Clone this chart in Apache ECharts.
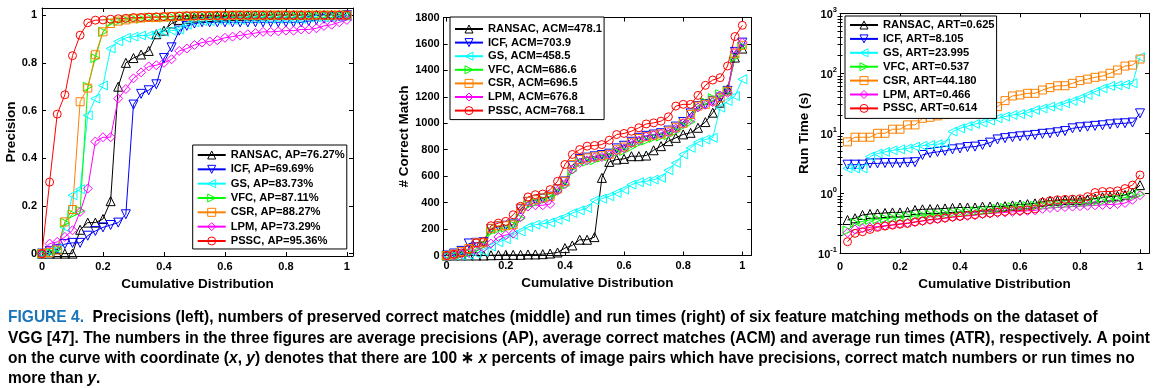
<!DOCTYPE html>
<html><head><meta charset="utf-8">
<script src="https://cdn.jsdelivr.net/npm/echarts@6/dist/echarts.min.js"></script>
<style>html,body{margin:0;padding:0;background:#fff}#c{width:1158px;height:388px}</style>
</head><body><div id="c"></div>
<script>
// ---------- data ----------
const cdfX = [0,0.025,0.05,0.075,0.1,0.125,0.15,0.175,0.2,0.225,0.25,0.275,0.3,0.325,0.35,0.375,0.4,0.425,0.45,0.475,0.5,0.525,0.55,0.575,0.6,0.625,0.65,0.675,0.7,0.725,0.75,0.775,0.8,0.825,0.85,0.875,0.9,0.925,0.95,0.975,1];
const cdfXRun = cdfX.slice(1);
const xTicks = [0,0.2,0.4,0.6,0.8,1];
const precTicks = [0,0.2,0.4,0.6,0.8,1];
const matchTicks = [0,200,400,600,800,1000,1200,1400,1600,1800];
const timeTicks = [0.1,1,10,100,1000];
const timeMinorTicks = [0.2,0.3,0.4,0.5,0.6,0.7,0.8,0.9,2,3,4,5,6,7,8,9,20,30,40,50,60,70,80,90,200,300,400,500,600,700,800,900];
const methods = ['RANSAC','ICF','GS','VFC','CSR','LPM','PSSC'];
const apText = ['76.27%','69.69%','83.73%','87.11%','88.27%','73.29%','95.36%'];
const acmText = ['478.1','703.9','458.5','686.6','696.5','676.8','768.1'];
const artText = ['0.625','8.105','23.995','0.537','44.180','0.466','0.614'];

// Precision (left)
const precRansac = [0,0,0,0,0,0.10,0.13,0.13,0.145,0.22,0.70,0.80,0.82,0.835,0.85,0.92,0.935,0.965,0.98,0.985,0.99,0.99,0.992,0.994,0.995,0.996,0.997,0.998,0.998,0.999,1,1,1,1,1,1,1,1,1,1,1];
const precIcf = [0,0.01,0.02,0.04,0.045,0.045,0.075,0.095,0.11,0.12,0.13,0.165,0.625,0.67,0.685,0.71,0.82,0.865,0.935,0.955,0.965,0.97,0.97,0.97,0.97,0.97,0.97,0.97,0.97,0.97,0.97,0.97,0.97,0.97,0.97,0.975,0.98,0.985,0.99,0.995,1.0];
const precGs = [0,0.01,0.02,0.11,0.245,0.27,0.58,0.65,0.705,0.86,0.89,0.905,0.91,0.915,0.915,0.925,0.93,0.935,0.94,0.96,0.97,0.975,0.975,0.98,0.98,0.98,0.98,0.985,0.985,0.985,0.985,0.985,0.985,0.985,0.985,0.99,0.99,0.99,0.99,0.99,0.995];
const precVfc = [0,0.005,0.02,0.13,0.165,0.18,0.70,0.82,0.93,0.97,0.975,0.98,0.985,0.985,0.99,0.99,0.99,0.992,0.994,0.995,0.996,0.997,0.998,0.998,0.999,0.999,1,1,1,1,1,1,1,1,1,1,1,1,1,1,1];
const precCsr = [0,0.005,0.015,0.133,0.185,0.637,0.694,0.834,0.93,0.965,0.975,0.98,0.985,0.988,0.99,0.99,0.992,0.994,0.995,0.996,0.997,0.998,0.998,0.999,0.999,1,1,1,1,1,1,1,1,1,1,1,1,1,1,1,1];
const precLpm = [0,0.042,0.049,0.07,0.098,0.175,0.273,0.47,0.488,0.488,0.65,0.69,0.735,0.76,0.785,0.79,0.80,0.815,0.85,0.86,0.875,0.885,0.89,0.895,0.905,0.91,0.915,0.92,0.925,0.93,0.93,0.932,0.935,0.935,0.94,0.94,0.945,0.955,0.96,0.97,0.98];
const precPssc = [0,0.30,0.585,0.666,0.83,0.916,0.968,0.979,0.98,0.983,0.985,0.987,0.99,0.99,0.992,0.993,0.994,0.995,0.996,0.997,0.997,0.998,0.998,0.999,0.999,1,1,1,1,1,1,1,1,1,1,1,1,1,1,1,1];

// Correct matches (middle)
const matchRansac = [0,0,0,0,0,0,2,3,5,5,5,8,8,10,15,23,56,76,119,119,139,587,708,726,731,751,751,756,796,827,865,890,916,928,966,1009,1080,1156,1257,1497,1565];
const matchIcf = [0,15,35,91,96,100,200,220,225,235,350,405,420,430,445,500,560,680,730,740,750,760,770,810,830,860,890,905,915,925,945,975,1010,1075,1130,1145,1170,1195,1245,1540,1610];
const matchGs = [0,0,0,5,15,30,68,100,124,157,182,215,233,240,250,270,291,321,341,359,417,430,448,473,498,536,554,561,574,587,645,700,764,814,857,877,890,1118,1168,1206,1333];
const matchVfc = [0,5,10,20,50,80,180,200,210,230,280,380,400,420,440,480,530,640,700,710,720,740,750,780,790,820,850,870,890,900,910,940,980,1010,1120,1160,1190,1220,1240,1500,1580];
const matchCsr = [0,10,30,53,96,96,206,225,225,232,359,410,422,435,447,503,561,688,726,738,746,755,765,800,820,855,885,900,910,920,940,970,1000,1067,1130,1143,1168,1193,1243,1530,1590];
const matchLpm = [0,5,10,20,40,60,90,140,155,165,290,370,380,380,390,490,540,650,700,720,740,745,760,790,810,850,870,900,910,920,930,960,1000,1030,1120,1140,1160,1210,1230,1540,1610];
const matchPssc = [0,10,20,45,95,105,225,245,258,308,372,443,460,465,498,561,688,764,801,827,832,839,872,915,923,940,966,995,1003,1016,1049,1130,1143,1143,1211,1287,1327,1345,1433,1656,1741];

// Run times (right), seconds
const timeRansac = [0.359,0.383,0.435,0.452,0.46,0.47,0.48,0.48,0.49,0.527,0.54,0.545,0.55,0.56,0.57,0.58,0.58,0.58,0.6,0.6,0.6,0.61,0.63,0.65,0.66,0.68,0.72,0.75,0.75,0.77,0.77,0.77,0.79,0.82,0.86,0.88,0.9,0.94,1.03,1.37];
const timeIcf = [3.0,3.0,3.0,3.15,3.15,3.2,3.2,3.2,3.25,3.3,4.35,4.7,4.9,5.1,5.4,5.6,5.9,6.0,6.4,7.0,7.9,8.3,8.6,8.9,9.1,9.4,9.8,10,10.4,10.9,12.1,12.6,12.9,13.3,13.6,14.1,14.5,14.7,15.1,21.5];
const timeGs = [2.6,2.6,2.6,4.1,4.6,4.9,5.2,5.4,5.6,6.0,6.2,6.4,6.6,6.8,10.7,12.1,13.2,14.3,15.1,16.3,17.8,19,20.2,21,22,24.5,26,27.8,28.5,31.6,34.5,38.3,43.5,49.5,56,61.5,63,65,68,185];
const timeVfc = [0.24,0.32,0.34,0.36,0.37,0.38,0.39,0.4,0.41,0.42,0.43,0.44,0.45,0.46,0.47,0.48,0.49,0.5,0.51,0.52,0.55,0.57,0.59,0.6,0.61,0.62,0.63,0.64,0.65,0.66,0.67,0.68,0.7,0.72,0.74,0.77,0.8,0.85,0.9,0.98];
const timeCsr = [7.2,8.6,8.6,8.6,10,10,11.7,11.7,13.8,13.8,17.8,18.5,19.5,20.5,21,22,23,23.5,24,25.5,27.8,35,41.9,43.6,46.4,46.4,52.7,57.7,62,62,68,75.5,80,85.7,90,100,113.6,132,137,173];
const timeLpm = [0.22,0.25,0.26,0.27,0.28,0.29,0.3,0.31,0.32,0.33,0.345,0.36,0.37,0.385,0.4,0.41,0.42,0.43,0.45,0.46,0.47,0.48,0.49,0.5,0.51,0.52,0.55,0.57,0.58,0.59,0.6,0.61,0.62,0.63,0.64,0.65,0.66,0.69,0.78,0.93];
const timePssc = [0.156,0.215,0.229,0.25,0.271,0.284,0.295,0.306,0.314,0.334,0.347,0.365,0.374,0.388,0.403,0.413,0.43,0.44,0.456,0.468,0.486,0.498,0.517,0.517,0.53,0.55,0.71,0.75,0.78,0.79,0.8,0.81,0.88,1.03,1.07,1.07,1.1,1.2,1.37,2.02];

const precSets = [precRansac,precIcf,precGs,precVfc,precCsr,precLpm,precPssc];
const matchSets = [matchRansac,matchIcf,matchGs,matchVfc,matchCsr,matchLpm,matchPssc];
const timeSets = [timeRansac,timeIcf,timeGs,timeVfc,timeCsr,timeLpm,timePssc];

// ---------- styles ----------
const FONT = "'Liberation Sans', Arial, Helvetica, sans-serif";
const colors = ['#000000','#0000ff','#00ffff','#00ff00','#ff8000','#ff00ff','#ff0000'];
const symbols = ['triangle','triangle','triangle','triangle','rect','diamond','circle'];
const rotates = [0,180,90,-90,0,0,0];
const sizes = [9,9,9,9,8,9,8];

function mkSeries(name, xs, ys, i, xi, yi) {
  return {
    type: 'line', name: name, xAxisIndex: xi, yAxisIndex: yi,
    data: ys.map(function (v, j) { return [xs[j], v]; }),
    symbol: symbols[i], symbolSize: sizes[i], symbolRotate: rotates[i],
    showSymbol: true, clip: false, animation: false,
    lineStyle: { color: colors[i], width: 1 },
    itemStyle: { color: 'rgba(255,255,255,0)', borderColor: colors[i], borderWidth: 1 },
    emphasis: { disabled: true }
  };
}

const tickLabel = { fontFamily: FONT, fontSize: 11, fontWeight: 'bold', color: '#000' };
const nameStyle = { fontFamily: FONT, fontSize: 13.5, fontWeight: 'bold', color: '#000' };
const lineSt = { show: true, onZero: false, lineStyle: { color: '#000', width: 1 } };
const plainFmt = function (v) { return String(v); };

function xAxisPair(gi, min, max, margin, gap) {
  return [
    { type: 'value', gridIndex: gi, min: min, max: max, position: 'bottom',
      axisLine: lineSt, splitLine: { show: false },
      axisTick: { show: true, inside: true, length: 4, customValues: xTicks, lineStyle: { color: '#000' } },
      axisLabel: Object.assign({ customValues: xTicks, margin: margin, formatter: plainFmt }, tickLabel),
      name: 'Cumulative Distribution', nameLocation: 'middle', nameGap: gap, nameTextStyle: nameStyle },
    { type: 'value', gridIndex: gi, min: min, max: max, position: 'top',
      axisLine: lineSt, splitLine: { show: false },
      axisTick: { show: true, inside: true, length: 4, customValues: xTicks, lineStyle: { color: '#000' } },
      axisLabel: { show: false } }
  ];
}
function yAxisPair(gi, min, max, ticks, margin, name, gap) {
  return [
    { type: 'value', gridIndex: gi, min: min, max: max, position: 'left',
      axisLine: lineSt, splitLine: { show: false },
      axisTick: { show: true, inside: true, length: 4, customValues: ticks, lineStyle: { color: '#000' } },
      axisLabel: Object.assign({ customValues: ticks, margin: margin, formatter: plainFmt }, tickLabel),
      name: name, nameLocation: 'middle', nameGap: gap, nameRotate: 90, nameTextStyle: nameStyle },
    { type: 'value', gridIndex: gi, min: min, max: max, position: 'right',
      axisLine: lineSt, splitLine: { show: false },
      axisTick: { show: true, inside: true, length: 4, customValues: ticks, lineStyle: { color: '#000' } },
      axisLabel: { show: false } }
  ];
}

const xAxes = [].concat(
  xAxisPair(0, 0, 1.02, 5, 17),
  xAxisPair(1, -0.01, 1.03, 5, 17.5),
  xAxisPair(2, 0, 1.03, 8, 19.5)
);
const yAxes = [].concat(
  yAxisPair(0, -0.01, 1.03, precTicks, 5, 'Precision', 24),
  yAxisPair(1, 0, 1800, matchTicks, 4, '# Correct Match', 29)
);
const logLabel = {
  customValues: timeTicks, margin: 3,
  formatter: function (v) { const e = Math.round(Math.log10(v)); return '{b|10}{s|' + e + '}'; },
  rich: {
    b: { fontFamily: FONT, fontSize: 11, fontWeight: 'bold', color: '#000', verticalAlign: 'bottom' },
    s: { fontFamily: FONT, fontSize: 7.5, fontWeight: 'bold', color: '#000', verticalAlign: 'bottom', padding: [0, 0, 7, 0] }
  }
};
yAxes.push(
  { type: 'log', logBase: 10, gridIndex: 2, min: 0.1, max: 1000, position: 'left',
    axisLine: lineSt, splitLine: { show: false },
    axisTick: { show: true, inside: true, length: 4, customValues: timeTicks, lineStyle: { color: '#000' } },
    axisLabel: logLabel,
    name: 'Run Time (s)', nameLocation: 'middle', nameGap: 29, nameRotate: 90, nameTextStyle: nameStyle },
  { type: 'log', logBase: 10, gridIndex: 2, min: 0.1, max: 1000, position: 'right',
    axisLine: lineSt, splitLine: { show: false },
    axisTick: { show: true, inside: true, length: 4, customValues: timeTicks, lineStyle: { color: '#000' } },
    axisLabel: { show: false } },
  { type: 'log', logBase: 10, gridIndex: 2, min: 0.1, max: 1000, position: 'left',
    axisLine: { show: false }, splitLine: { show: false },
    axisTick: { show: true, inside: true, length: 2.5, customValues: timeMinorTicks, lineStyle: { color: '#000' } },
    axisLabel: { show: false } },
  { type: 'log', logBase: 10, gridIndex: 2, min: 0.1, max: 1000, position: 'right',
    axisLine: { show: false }, splitLine: { show: false },
    axisTick: { show: true, inside: true, length: 2.5, customValues: timeMinorTicks, lineStyle: { color: '#000' } },
    axisLabel: { show: false } }
);

const series = [];
const names1 = [], names2 = [], names3 = [];
methods.forEach(function (m, i) {
  const n1 = m + ', AP=' + apText[i];
  const n2 = m + ', ACM=' + acmText[i];
  const n3 = m + ', ART=' + artText[i];
  names1.push(n1); names2.push(n2); names3.push(n3);
  series.push(mkSeries(n1, cdfX, precSets[i], i, 0, 0));
  series.push(mkSeries(n2, cdfX, matchSets[i], i, 2, 2));
  series.push(mkSeries(n3, cdfXRun, timeSets[i], i, 4, 4));
});

function mkLegend(names, left, top, gap, padding) {
  return {
    data: names, orient: 'vertical', left: left, top: top, itemGap: gap,
    itemWidth: 28, itemHeight: 10, padding: padding,
    backgroundColor: '#fff', borderColor: '#000', borderWidth: 1, borderRadius: 0,
    selectedMode: false, z: 10,
    itemStyle: { color: 'rgba(255,255,255,0)', borderWidth: 1 },
    textStyle: { fontFamily: FONT, fontSize: 11.2, fontWeight: 'bold', color: '#000', lineHeight: 12 }
  };
}

// ---------- caption ----------
const CAP_FONT = "'Liberation Sans', Arial, sans-serif";
const CAP_SIZE = 17;
const capRich = {
  n: { fontFamily: CAP_FONT, fontSize: CAP_SIZE, fontWeight: 'bold', fill: '#000' },
  i: { fontFamily: CAP_FONT, fontSize: CAP_SIZE, fontWeight: 'bold', fontStyle: 'italic', fill: '#000' },
  f: { fontFamily: CAP_FONT, fontSize: CAP_SIZE, fontWeight: 'bold', fill: '#1b75bb' }
};
const captionLines = [
  '{f|FIGURE 4.}{n|  Precisions (left), numbers of preserved correct matches (middle) and run times (right) of six feature matching methods on the dataset of}',
  '{n|VGG [47]. The numbers in the three figures are average precisions (AP), average correct matches (ACM) and average run times (ATR), respectively. A point}',
  '{n|on the curve with coordinate (}{i|x}{n|, }{i|y}{n|) denotes that there are 100 \u2217 }{i|x}{n| percents of image pairs which have precisions, correct match numbers or run times no}',
  '{n|more than }{i|y}{n|.}'
];
const captionY = [317, 338, 358.5, 378];
const measureCtx = document.createElement('canvas').getContext('2d');
measureCtx.font = 'bold ' + CAP_SIZE + 'px ' + CAP_FONT;
const line2Plain = captionLines[1].replace(/\{[a-z]\|/g, '').replace(/\}/g, '');
const capScale = 1142 / measureCtx.measureText(line2Plain).width;

const option = {
  animation: false,
  backgroundColor: '#fff',
  grid: [
    { left: 42, top: 8, width: 311, height: 248, containLabel: false },
    { left: 443.7, top: 17.5, width: 307.5, height: 238, containLabel: false },
    { left: 840, top: 13.3, width: 309, height: 240, containLabel: false }
  ],
  xAxis: xAxes,
  yAxis: yAxes,
  legend: [
    mkLegend(names1, 192.7, 145, 2.33, [4, 2, 2, 4]),
    mkLegend(names2, 450, 17, 1.6, [6, 2, 3, 4]),
    mkLegend(names3, 845, 16, 1.9, [3, 2, 4, 4])
  ],
  series: series,
  graphic: captionLines.map(function (t, k) {
    return { type: 'text', x: 8, y: captionY[k], scaleX: capScale, originX: 0, silent: true,
      style: { text: t, rich: capRich, fontFamily: CAP_FONT, fontSize: CAP_SIZE, fontWeight: 'bold', fill: '#000', verticalAlign: 'middle', align: 'left' } };
  })
};

const chart = echarts.init(document.getElementById('c'), null, { renderer: 'canvas', width: 1158, height: 388 });
chart.setOption(option);
</script>
</body></html>
